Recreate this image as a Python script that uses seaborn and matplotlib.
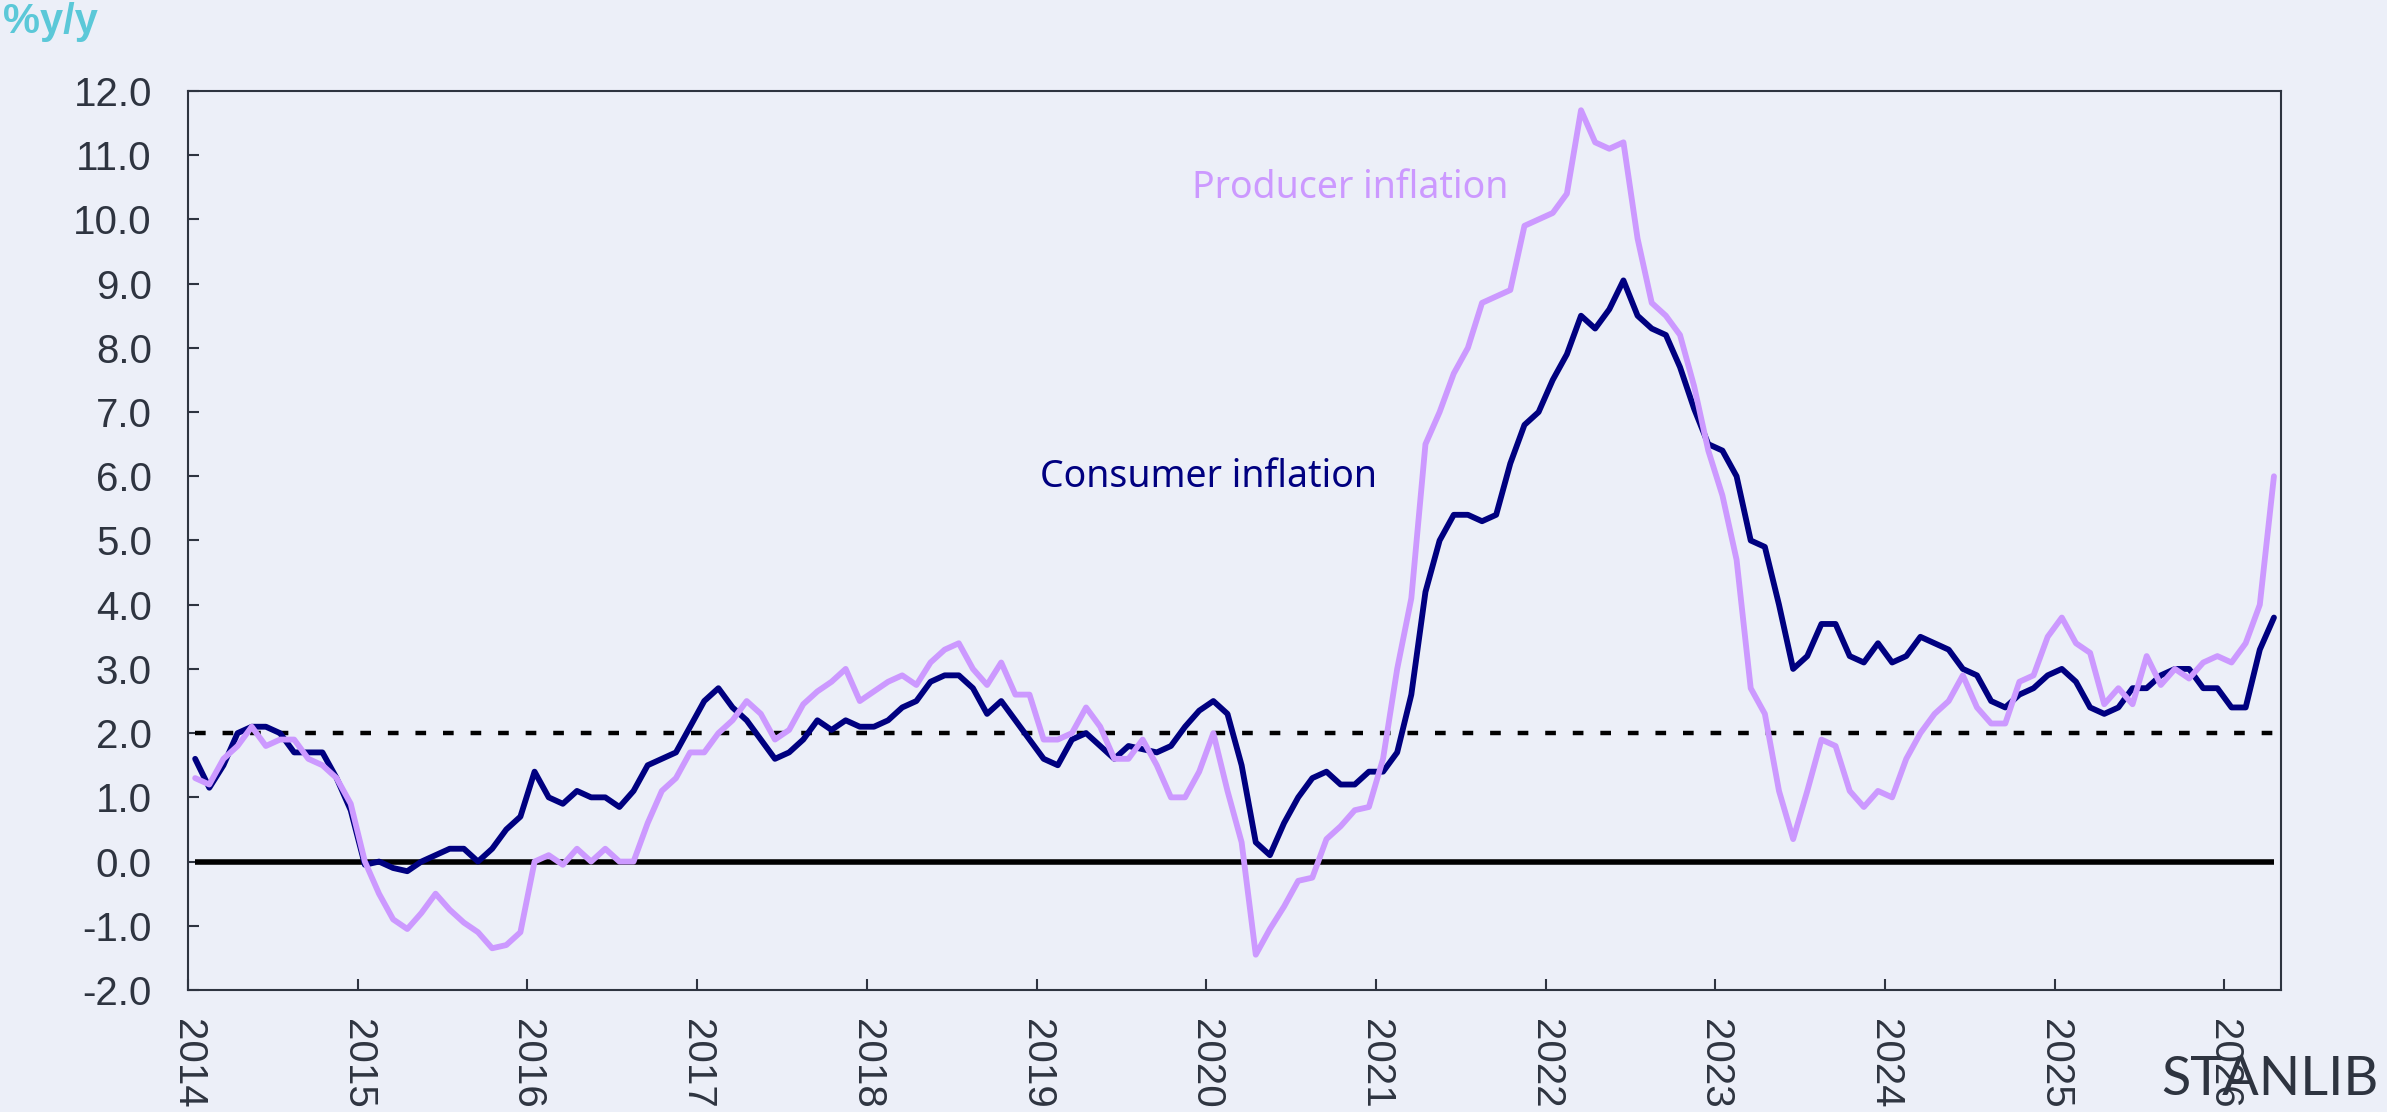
import numpy as np
import pandas as pd
import matplotlib
matplotlib.use("Agg")
import matplotlib.pyplot as plt
import seaborn as sns

# ---------------- data (monthly, Jan 2014 - Apr 2026, % y/y) ----------------
years = list(range(2014, 2027))

consumer_inflation = [
    1.6, 1.15, 1.5, 2.0, 2.1, 2.1, 2.0, 1.7, 1.7, 1.7, 1.3, 0.8,
    -0.05, 0.0, -0.1, -0.15, 0.0, 0.1, 0.2, 0.2, 0.0, 0.2, 0.5, 0.7,
    1.4, 1.0, 0.9, 1.1, 1.0, 1.0, 0.85, 1.1, 1.5, 1.6, 1.7, 2.1,
    2.5, 2.7, 2.4, 2.2, 1.9, 1.6, 1.7, 1.9, 2.2, 2.05, 2.2, 2.1,
    2.1, 2.2, 2.4, 2.5, 2.8, 2.9, 2.9, 2.7, 2.3, 2.5, 2.2, 1.9,
    1.6, 1.5, 1.9, 2.0, 1.8, 1.6, 1.8, 1.75, 1.7, 1.8, 2.1, 2.35,
    2.5, 2.3, 1.5, 0.3, 0.1, 0.6, 1.0, 1.3, 1.4, 1.2, 1.2, 1.4,
    1.4, 1.7, 2.6, 4.2, 5.0, 5.4, 5.4, 5.3, 5.4, 6.2, 6.8, 7.0,
    7.5, 7.9, 8.5, 8.3, 8.6, 9.05, 8.5, 8.3, 8.2, 7.7, 7.05, 6.5,
    6.4, 6.0, 5.0, 4.9, 4.0, 3.0, 3.2, 3.7, 3.7, 3.2, 3.1, 3.4,
    3.1, 3.2, 3.5, 3.4, 3.3, 3.0, 2.9, 2.5, 2.4, 2.6, 2.7, 2.9,
    3.0, 2.8, 2.4, 2.3, 2.4, 2.7, 2.7, 2.9, 3.0, 3.0, 2.7, 2.7,
    2.4, 2.4, 3.3, 3.8,
]

producer_inflation = [
    1.3, 1.2, 1.6, 1.8, 2.1, 1.8, 1.9, 1.9, 1.6, 1.5, 1.3, 0.9,
    0.0, -0.5, -0.9, -1.05, -0.8, -0.5, -0.75, -0.95, -1.1, -1.35, -1.3, -1.1,
    0.0, 0.1, -0.05, 0.2, 0.0, 0.2, 0.0, 0.0, 0.6, 1.1, 1.3, 1.7,
    1.7, 2.0, 2.2, 2.5, 2.3, 1.9, 2.05, 2.45, 2.65, 2.8, 3.0, 2.5,
    2.65, 2.8, 2.9, 2.75, 3.1, 3.3, 3.4, 3.0, 2.75, 3.1, 2.6, 2.6,
    1.9, 1.9, 2.0, 2.4, 2.1, 1.6, 1.6, 1.9, 1.5, 1.0, 1.0, 1.4,
    2.0, 1.1, 0.3, -1.45, -1.05, -0.7, -0.3, -0.25, 0.35, 0.55, 0.8, 0.85,
    1.6, 3.0, 4.1, 6.5, 7.0, 7.6, 8.0, 8.7, 8.8, 8.9, 9.9, 10.0,
    10.1, 10.4, 11.7, 11.2, 11.1, 11.2, 9.7, 8.7, 8.5, 8.2, 7.4, 6.4,
    5.7, 4.7, 2.7, 2.3, 1.1, 0.35, 1.1, 1.9, 1.8, 1.1, 0.85, 1.1,
    1.0, 1.6, 2.0, 2.3, 2.5, 2.9, 2.4, 2.15, 2.15, 2.8, 2.9, 3.5,
    3.8, 3.4, 3.25, 2.45, 2.7, 2.45, 3.2, 2.75, 3.0, 2.85, 3.1, 3.2,
    3.1, 3.4, 4.0, 6.0,
]

target_level = 2.0
zero_level = 0.0
y_ticks = [-2, -1, 0, 1, 2, 3, 4, 5, 6, 7, 8, 9, 10, 11, 12]

# ---------------- style ----------------
BG = "#ECEFF8"
DARK = "#2E3440"
NAVY = "#000080"
LILAC = "#CC99FF"
CYAN = "#5BC8D8"

sns.set_theme(style="white")
plt.rcParams["font.family"] = ["Liberation Sans", "DejaVu Sans"]

fig = plt.figure(figsize=(23.87, 11.12), dpi=100, facecolor=BG)
left, right, bottom, top = 0.0788, 0.9556, 0.1097, 0.9182
ax = fig.add_axes([left, bottom, right - left, top - bottom])
ax.set_facecolor(BG)

n = len(consumer_inflation)
xpos = np.arange(n) + 0.5
df = pd.DataFrame({"month": xpos,
                   "Consumer inflation": consumer_inflation,
                   "Producer inflation": producer_inflation})

# reference lines spanning the data range
ax.hlines(zero_level, xpos[0], xpos[-1], color="black", lw=4.0, zorder=1)
ax.hlines(target_level, xpos[0], xpos[-1], color="black", lw=3.2,
          linestyles=(0, (2.4, 3.8)), zorder=1)

sns.lineplot(data=df, x="month", y="Consumer inflation", color=NAVY, lw=4.2,
             ax=ax, zorder=3, estimator=None)
sns.lineplot(data=df, x="month", y="Producer inflation", color=LILAC, lw=4.2,
             ax=ax, zorder=4, estimator=None)

ax.set_xlim(0, n)
ax.set_ylim(-2, 12)
ax.set_xlabel("")
ax.set_ylabel("")

ax.set_yticks(y_ticks)
ax.set_yticklabels([f"{v:.1f}" for v in y_ticks])
ax.set_xticks([12 * k for k in range(len(years))])
ax.set_xticklabels([str(y) for y in years], rotation=270)

ax.tick_params(axis="both", direction="in", length=8, width=1.5,
               color=DARK, labelcolor=DARK, labelsize=29)
ax.tick_params(axis="y", pad=26, left=True)
ax.tick_params(axis="x", pad=21, bottom=True)

for s in ax.spines.values():
    s.set_visible(True)
    s.set_color(DARK)
    s.set_linewidth(1.5)

# annotations
fig.text(1192 / 2387, 1 - 198 / 1112, "Producer inflation", color=LILAC,
         fontsize=27, family=["Noto Sans", "DejaVu Sans"], va="baseline", ha="left")
fig.text(1040 / 2387, 1 - 487 / 1112, "Consumer inflation", color=NAVY,
         fontsize=27, family=["Noto Sans", "DejaVu Sans"], va="baseline", ha="left")
fig.text(3 / 2387, 1 - 33 / 1112, "%y/y", color=CYAN, fontsize=30,
         fontweight="bold", va="baseline", ha="left")
fig.text(2379 / 2387, 1 - 1095 / 1112, "STANLIB",
         color=DARK, fontsize=39, family=["Lato", "DejaVu Sans"],
         va="baseline", ha="right")

fig.savefig("out.png", dpi=100, facecolor=BG)
